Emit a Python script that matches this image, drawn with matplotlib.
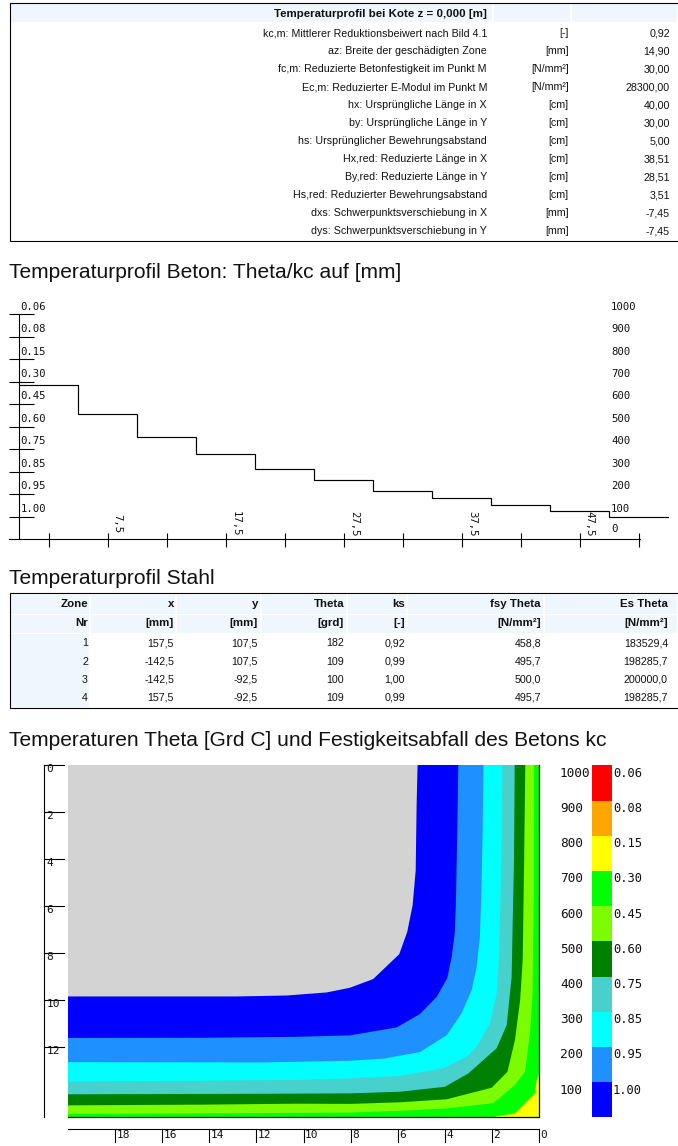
import matplotlib
matplotlib.use('Agg')
import matplotlib.pyplot as plt
from matplotlib.patches import Rectangle

W, H = 678, 1146
SANS = 'Liberation Sans'
MONO = 'DejaVu Sans Mono'
BAND = '#eff6fd'

# summary table
summary_title = 'Temperaturprofil bei Kote z = 0,000 [m]'
summary_labels = ['kc,m: Mittlerer Reduktionsbeiwert nach Bild 4.1', 'az: Breite der geschädigten Zone',
                  'fc,m: Reduzierte Betonfestigkeit im Punkt M', 'Ec,m: Reduzierter E-Modul im Punkt M',
                  'hx: Ursprüngliche Länge in X', 'by: Ursprüngliche Länge in Y',
                  'hs: Ursprünglicher Bewehrungsabstand', 'Hx,red: Reduzierte Länge in X',
                  'By,red: Reduzierte Länge in Y', 'Hs,red: Reduzierter Bewehrungsabstand',
                  'dxs: Schwerpunktsverschiebung in X', 'dys: Schwerpunktsverschiebung in Y']
summary_units = ['[-]', '[mm]', '[N/mm²]', '[N/mm²]', '[cm]', '[cm]', '[cm]', '[cm]', '[cm]', '[cm]', '[mm]', '[mm]']
summary_values = ['0,92', '14,90', '30,00', '28300,00', '40,00', '30,00', '5,00', '38,51', '28,51', '3,51',
                  '-7,45', '-7,45']

# temperature profile of the concrete
zone_edges = [0, 5, 10, 15, 20, 25, 30, 35, 40, 45, 50, 55]
zone_temps = [684, 555, 452, 377, 310, 261, 212, 181, 150, 123, 99]
temp_ticks = [100, 200, 300, 400, 500, 600, 700, 800, 900, 1000]
kc_labels = ['1.00', '0.95', '0.85', '0.75', '0.60', '0.45', '0.30', '0.15', '0.08', '0.06']
x_ticks = [2.5, 7.5, 12.5, 17.5, 22.5, 27.5, 32.5, 37.5, 42.5, 47.5, 52.5]
x_labels = {7.5: '7,5', 17.5: '17,5', 27.5: '27,5', 37.5: '37,5', 47.5: '47,5'}

# steel table
steel_head1 = ['Zone', 'x', 'y', 'Theta', 'ks', 'fsy Theta', 'Es Theta']
steel_head2 = ['Nr', '[mm]', '[mm]', '[grd]', '[-]', '[N/mm²]', '[N/mm²]']
steel_rows = [['1', '157,5', '107,5', '182', '0,92', '458,8', '183529,4'],
              ['2', '-142,5', '107,5', '109', '0,99', '495,7', '198285,7'],
              ['3', '-142,5', '-92,5', '100', '1,00', '500,0', '200000,0'],
              ['4', '157,5', '-92,5', '109', '0,99', '495,7', '198285,7']]

# isotherms: (distance from right edge, distance from bottom) in cm, hottest first
iso_green = ([0, 0.09, 0.16, 1.01, 1.79, 1.93], [1.80, 1.59, 1.02, 0.17, 0.04, 0])
iso_lawn = ([0.20, 0.21, 0.26, 0.37, 0.58, 1.01, 1.93, 3.91, 5.90, 8.03, 20],
            [15, 9.53, 5.28, 3.57, 1.94, 1.38, 0.60, 0.38, 0.28, 0.20, 0.14])
iso_dgreen = ([0.57, 0.62, 0.68, 0.79, 1.01, 1.33, 2.0, 3.91, 5.90, 8.03, 10.3, 14.27, 20],
              [15, 10.95, 6.70, 4.99, 3.29, 1.94, 1.26, 0.77, 0.64, 0.57, 0.58, 0.54, 0.51])
iso_turq = ([1.02, 1.05, 1.11, 1.15, 1.36, 1.79, 2.99, 3.99, 5.90, 8.03, 12.57, 20],
            [15, 10.95, 8.11, 5.99, 3.93, 2.94, 1.87, 1.30, 1.09, 1.02, 1.0, 0.98])
iso_cyan = ([1.55, 1.57, 1.62, 1.69, 1.79, 2.07, 2.64, 3.06, 4.06, 5.90, 8.03, 10.3, 20],
            [15, 12.37, 9.53, 6.70, 5.28, 4.0, 3.01, 2.58, 2.09, 1.76, 1.66, 1.59, 1.52])
iso_dodger = ([2.35, 2.38, 2.44, 2.50, 2.64, 2.85, 3.28, 3.91, 5.05, 6.61, 8.03, 11.72, 20],
              [15, 12.37, 9.53, 7.69, 6.41, 5.42, 4.43, 3.50, 2.78, 2.50, 2.41, 2.34, 2.35])
iso_blue = ([3.42, 3.46, 3.52, 3.57, 3.70, 3.89, 4.34, 5.05, 6.04, 8.03, 10.30, 14.27, 20],
            [15, 12.37, 9.11, 7.84, 6.84, 5.92, 5.13, 4.40, 3.83, 3.49, 3.43, 3.39, 3.38])
iso_grey = ([5.15, 5.19, 5.23, 5.36, 5.59, 5.93, 7.04, 8.03, 9.02, 10.72, 12.85, 20],
            [15, 13.36, 10.52, 9.04, 7.90, 6.95, 5.89, 5.52, 5.32, 5.19, 5.15, 5.15])
iso_lines = [iso_green, iso_lawn, iso_dgreen, iso_turq, iso_cyan, iso_dodger, iso_blue, iso_grey]
iso_colors = ['#00ff00', '#7cfc00', '#008000', '#48d1cc', '#00ffff', '#1e90ff', '#0000ff', '#d3d3d3']
depth_ticks = [2, 4, 6, 8, 10, 12]
width_ticks = [18, 16, 14, 12, 10, 8, 6, 4, 2, 0]

# legend
legend_temps = [100, 200, 300, 400, 500, 600, 700, 800, 900, 1000]
legend_kc = ['1.00', '0.95', '0.85', '0.75', '0.60', '0.45', '0.30', '0.15', '0.08', '0.06']
legend_colors = ['#0000ff', '#1e90ff', '#00ffff', '#48d1cc', '#008000', '#7cfc00', '#00ff00', '#ffff00', '#ffa500',
                 '#ff0000']


def px_axes(fig, left, top, right, bottom):
    ax = fig.add_axes([left / W, 1 - bottom / H, (right - left) / W, (bottom - top) / H])
    ax.patch.set_alpha(0)
    for s in ax.spines.values():
        s.set_visible(False)
    ax.set_xticks([])
    ax.set_yticks([])
    return ax


fig = plt.figure(figsize=(W / 100, H / 100), dpi=100, facecolor='white')

# page layer in pixels, for the tables and headings
page = px_axes(fig, 0, 0, W, H)
page.set_xlim(0, W)
page.set_ylim(H, 0)


def box(y0, y1):
    page.plot([W, 9.5, 9.5, W], [y0, y0, y1, y1], color='black', lw=0.8, solid_joinstyle='miter')


def band(x0, x1, y0, y1):
    page.add_patch(Rectangle((x0, y0), x1 - x0, y1 - y0, color=BAND, lw=0))


def cell(x, y, s, bold=False):
    page.text(x, y, s, ha='right', va='center', family=SANS, fontsize=8.25 if bold else 7.65, color='#111111',
              fontweight='bold' if bold else 'normal')


for y, s in [(273, 'Temperaturprofil Beton: Theta/kc auf [mm]'), (578.5, 'Temperaturprofil Stahl'),
             (740.5, 'Temperaturen Theta [Grd C] und Festigkeitsabfall des Betons kc')]:
    page.text(9, y, s, ha='left', va='center', family=SANS, fontsize=15.1, color='#111111')

# summary table
band(10, 492, 4, 22)
band(494, 570, 4, 22)
band(572, 677, 4, 22)
cell(487, 14, summary_title, bold=True)
for i, (lab, unit, val) in enumerate(zip(summary_labels, summary_units, summary_values)):
    y = 33 + i * 18
    cell(487, y, lab)
    cell(568.5, y, unit)
    cell(670, y, val)
box(2.7, 240.7)

# steel table
col_right = [88, 174, 258, 344, 405, 541, 668]
col_left = [10, 91, 177, 262, 348, 408, 545]
col_end = [89, 175, 260, 346, 406, 543, 677]
for l, r in zip(col_left, col_end):
    band(l, r, 595, 613.5)
    band(l, r, 615, 633)
band(10, 89, 634, 707)
for c, r in enumerate(col_right):
    cell(r, 604, steel_head1[c], bold=True)
    cell(r, 623, steel_head2[c], bold=True)
    for i, row in enumerate(steel_rows):
        cell(r, [643, 662, 680, 698][i], row[c])
box(593.3, 708.3)

# step profile, x in mm and y in deg C
ax = px_axes(fig, 19, 314.3, 668.5, 539)
ax.set_xlim(zone_edges[0], zone_edges[-1])
ax.set_ylim(0, 1000)
mm = 55 / (668.5 - 19)
deg = 1000 / (539 - 314.3)
ax.stairs(zone_temps, zone_edges, color='black', lw=0.85, baseline=None, zorder=3)
ax.plot([0, 0], [0, 1000], color='black', lw=0.8, clip_on=False)
ax.plot([-10.4 * mm, 621 * mm], [0, 0], color='black', lw=0.8, clip_on=False)
ax.hlines(temp_ticks, -10.4 * mm, 14.7 * mm, color='black', lw=0.8, clip_on=False)
ax.vlines(x_ticks, -7.6 * deg, 6 * deg, color='black', lw=0.8, clip_on=False)
for t, k in zip(temp_ticks, kc_labels):
    ax.text(1.5 * mm, t + 7.7 * deg, k, ha='left', va='center', family=MONO, fontsize=7.7, color='#111111')
    ax.text(592 * mm, t + 7.7 * deg, str(t), ha='left', va='center', family=MONO, fontsize=7.7, color='#111111')
ax.text(592 * mm, 10 * deg, '0', ha='left', va='center', family=MONO, fontsize=7.7, color='#111111')
for t, s in x_labels.items():
    ax.text(t + 10 * mm, 15 * deg, s, ha='center', va='center', rotation=270, family=MONO, fontsize=7.7,
            color='#111111', zorder=4)

# isotherm field, right edge and bottom edge are the fire sides
ax = px_axes(fig, 68.3, 765.3, 538.7, 1117.3)
ax.set_xlim(20, 0)
ax.set_ylim(0, 15)
cm = 20 / (538.7 - 68.3)
# polygons run past the axes and get clipped, so no colour fringes show at the edges
ax.fill([-1, 21, 21, -1], [-1, -1, 16, 16], color='#ffff00', lw=0)
for (u, v), col in zip(iso_lines, iso_colors):
    us = list(u)
    vs = list(v)
    if col == '#00ff00':
        ax.fill([-1] + us + [21, 21, -1], [vs[0]] + vs + [-1, 16, 16], color=col, lw=0)
    else:
        ax.fill([us[0]] + us + [21, 21], [16] + vs + [vs[-1], 16], color=col, lw=0)
ax.plot([20, 0, 0], [0, 0, 15], color='black', lw=0.9, clip_on=False)

# depth scale on the left, 0 at top
ax.plot([20 + 24 * cm] * 2, [0, 15], color='black', lw=0.8, clip_on=False)
for d in [0] + depth_ticks:
    ax.plot([20 + 24 * cm, 20 + 4.3 * cm], [15 - d, 15 - d], color='black', lw=0.8, clip_on=False)
    ax.text(20 + 22 * cm, 15 - d - 4 * cm, str(d), ha='left', va='center', family=MONO, fontsize=8, color='#111111')
# width scale below
ax.plot([20, 0], [-12 * cm, -12 * cm], color='black', lw=0.8, clip_on=False)
for w in width_ticks:
    ax.plot([w, w], [-12 * cm, -24.4 * cm], color='black', lw=0.8, clip_on=False)
    ax.text(w - 1.5 * cm, -18 * cm, str(w), ha='left', va='center', family=MONO, fontsize=8, color='#111111')

# legend as a stacked bar
ax = px_axes(fig, 592.3, 765.3, 611.7, 1117.3)
ax.set_xlim(0, 1)
ax.set_ylim(0, 1000)
ax.bar([0.5] * 10, [100] * 10, width=1, bottom=[t - 100 for t in legend_temps], color=legend_colors, lw=0)
for t, k in zip(legend_temps, legend_kc):
    ax.text(-1.67, t - 23, str(t), ha='left', va='center', family=MONO, fontsize=9.2, color='#111111')
    ax.text(1.06, t - 23, k, ha='left', va='center', family=MONO, fontsize=8.7, color='#111111')

fig.savefig('out.png', dpi=100)
